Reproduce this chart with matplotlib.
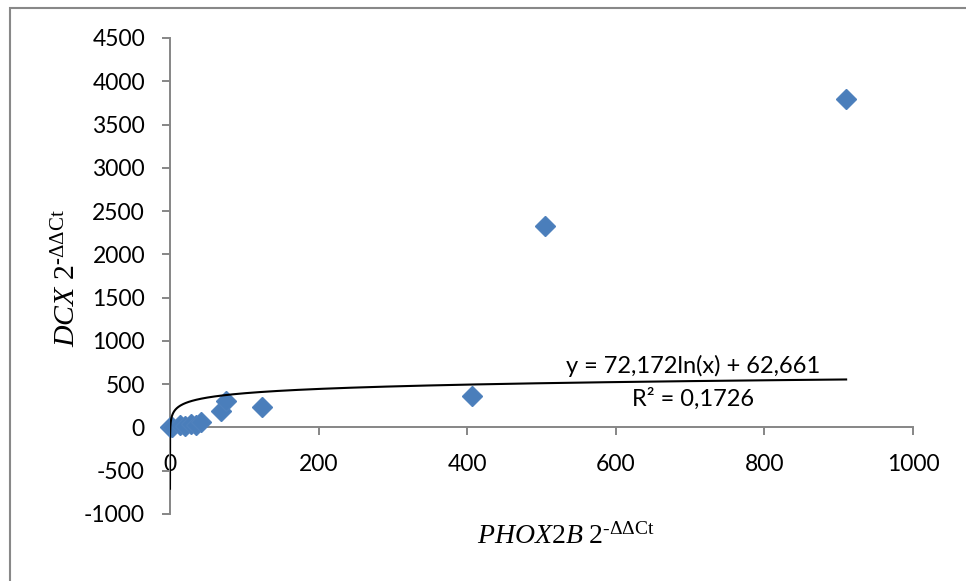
import numpy as np
import matplotlib.pyplot as plt
from matplotlib.patches import Rectangle

# PHOX2B vs DCX expression (2^-ddCt)
phox2b = [0.000023, 3, 13, 20, 28, 35, 42, 68, 75, 124, 406, 505, 910]
dcx = [5, 10, 30, 20, 35, 30, 60, 195, 310, 235, 360, 2325, 3800]

# logarithmic trendline given on the chart
coef_a = 72.172
coef_b = 62.661
eq_label = "y = 72,172ln(x) + 62,661"
r2_label = "R² = 0,1726"

x_ticks = [0, 200, 400, 600, 800, 1000]
y_ticks = list(range(-1000, 5000, 500))

plt.rcParams["font.family"] = ["Lato", "DejaVu Sans"]
plt.rcParams["axes.unicode_minus"] = False
plt.rcParams["mathtext.fontset"] = "custom"
plt.rcParams["mathtext.rm"] = "Liberation Serif"
plt.rcParams["mathtext.it"] = "Liberation Serif:italic"

fig = plt.figure(figsize=(9.66, 5.81), dpi=100)
ax = fig.add_axes([170 / 966, 1 - 514 / 581, 743 / 966, 476 / 581])

axis_grey = "#868686"

xs = np.array(phox2b)
xt = np.geomspace(xs.min(), xs.max(), 400)
ax.plot(xt, coef_a * np.log(xt) + coef_b, color="black", lw=1.5, zorder=4)

ax.plot(phox2b, dcx, linestyle="none", marker="D", markersize=10,
        color="#4A7EBB", markeredgecolor="#4F81BD", zorder=3, clip_on=False)

ax.set_xlim(0, 1000)
ax.set_ylim(-1000, 4500)
ax.set_xticks(x_ticks)
ax.set_yticks(y_ticks)

ax.spines["top"].set_visible(False)
ax.spines["right"].set_visible(False)
ax.spines["bottom"].set_position(("data", 0))
for s in ["left", "bottom"]:
    ax.spines[s].set_color(axis_grey)
    ax.spines[s].set_linewidth(1.4)

ax.tick_params(axis="both", direction="out", length=6, width=1.4, color=axis_grey,
               labelsize=16.5, labelcolor="black")
ax.tick_params(axis="x", pad=13)
ax.tick_params(axis="y", pad=12)

ax.text(704, 705, eq_label, ha="center", va="center", fontsize=17)
ax.text(704, 335, r2_label, ha="center", va="center", fontsize=17)

fig.text(66 / 966, 1 - 278 / 581, r"$\mathit{DCX}\ 2^{\text{-}\Delta\Delta \mathrm{Ct}}$",
         rotation=90, ha="center", va="center", fontsize=21.5)
fig.text(566 / 966, 1 - 535 / 581, r"$\mathit{PHOX2B}\ 2^{\text{-}\Delta\Delta \mathrm{Ct}}$",
         ha="center", va="center", fontsize=20)

# chart area border (only left and top edges fall inside the picture)
fig.patches.append(Rectangle((10 / 966, -0.1), 1.2, 1 - 8 / 581 + 0.1,
                             transform=fig.transFigure, fill=False,
                             edgecolor="#888888", linewidth=1.5))

fig.savefig("out.png", dpi=100)
